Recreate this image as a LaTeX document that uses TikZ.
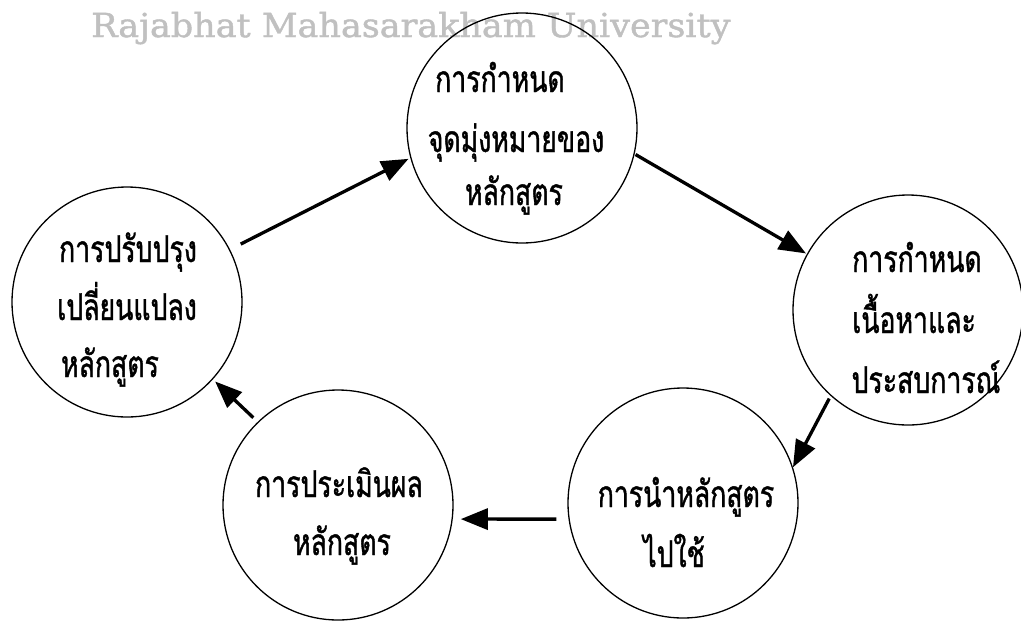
\documentclass[tikz,border=0pt]{standalone}
\usepackage{fontspec}
\usetikzlibrary{arrows.meta}
\newfontfamily\thai[Script=Thai,FakeStretch=0.72,FakeBold=1.1]{Loma}
\newfontfamily\wmfont[FakeStretch=1.06,FakeBold=1.2]{DejaVu Serif}
\definecolor{wmgray}{RGB}{192,192,192}
\tikzset{
  circ/.style={circle, draw=black, line width=1.3pt, minimum size=230pt, inner sep=0pt},
  txt/.style={anchor=base, inner sep=0pt, font=\thai\fontsize{37}{37}\selectfont},
  arr/.style={line width=3.3pt, -{Triangle[length=27pt,width=21pt]}},
}
\begin{document}
\begin{tikzpicture}[x=1pt,y=-1pt]
\fill[white] (0,0) rectangle (1021,622);
\useasboundingbox (0,0) rectangle (1021,622);
\node[anchor=base west, inner sep=0pt, text=wmgray, font=\wmfont\fontsize{33}{33}\selectfont] (wm) at (91,37) {Rajabhat Mahasarakham University};
% circles
\node[circ] (T) at (522,128) {};
\node[circ] (R) at (908,310) {};
\node[circ] (BR) at (683,503) {};
\node[circ] (BL) at (338,505) {};
\node[circ] (L) at (127,302) {};
% texts
\node[txt] (T1) at (500,92) {การกำหนด};
\node[txt] (T2) at (516,152) {จุดมุ่งหมายของ};
\node[txt] (T3) at (514,205) {หลักสูตร};
\node[txt] (L1) at (128,262) {การปรับปรุง};
\node[txt] (L2) at (127,320) {เปลี่ยนแปลง};
\node[txt] (L3) at (110,377) {หลักสูตร};
\node[txt] (R1) at (917,272) {การกำหนด};
\node[txt] (R2) at (914,333) {เนื้อหาและ};
\node[txt] (R3) at (926,393) {ประสบการณ์};
\node[txt] (BR1) at (686,507) {การนำหลักสูตร};
\node[txt] (BR2) at (674,567) {ไปใช้};
\node[txt] (BL1) at (339,497) {การประเมินผล};
\node[txt] (BL2) at (342,555) {หลักสูตร};
% arrows
\draw[arr, shorten <=12pt, shorten >=2pt] (L.27.6) -- (T.195.3);
\draw[arr, shorten <=1pt, shorten >=1pt] (T.-13.9) -- (R.151.2);
\draw[arr, shorten <=3pt] (R.228.4) -- (BR.18.4);
\draw[arr, shorten <=12pt, shorten >=8pt] (BR.188) -- (BL.-7);
\draw[arr, shorten <=6pt, shorten >=3pt] (BL.134.7) -- (L.-42.3);
\end{tikzpicture}
\end{document}
